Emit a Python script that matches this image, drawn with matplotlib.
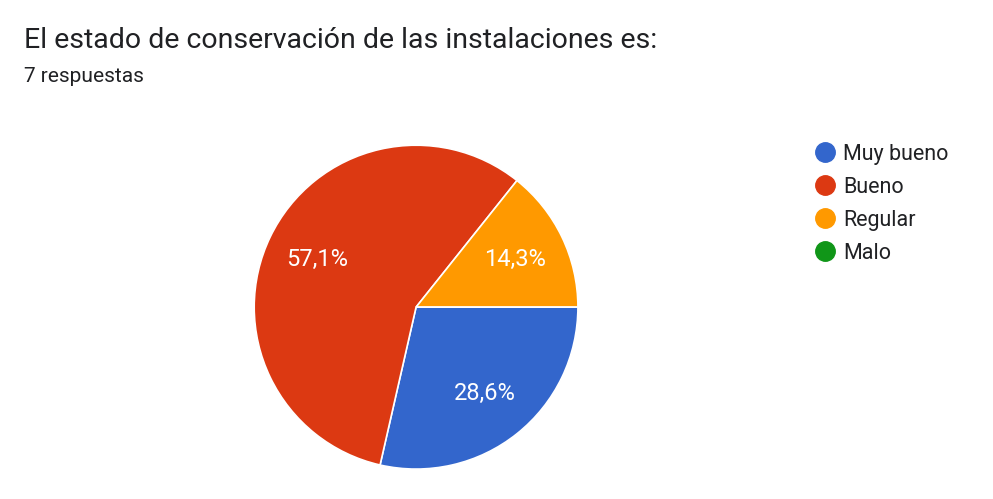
import matplotlib
matplotlib.use("Agg")
import matplotlib.pyplot as plt
from matplotlib.lines import Line2D

plt.rcParams["font.family"] = "Roboto"

title = "El estado de conservación de las instalaciones es:"
subtitle = "7 respuestas"
categories = ["Muy bueno", "Bueno", "Regular", "Malo"]
counts = [2, 4, 1, 0]
colors = ["#3366cc", "#dc3912", "#ff9900", "#109618"]

fig = plt.figure(figsize=(9.93, 4.99), dpi=100)
fig.text(24 / 993, 1 - 40 / 499, title, fontsize=20.5, color="#202124", va="center")
fig.text(24 / 993, 1 - 76 / 499, subtitle, fontsize=15, color="#202124", va="center")

ax = fig.add_axes([0.256, 0.060, 0.326, 0.649])


def fmt(p):
    return "" if p < 0.05 else ("%.1f%%" % p).replace(".", ",")


ax.pie(counts, colors=colors, startangle=0, counterclock=False,
       autopct=fmt, pctdistance=0.68,
       wedgeprops=dict(edgecolor="white", linewidth=1.2),
       textprops=dict(color="white", fontsize=17))
ax.set_aspect("auto")
ax.set_xlim(-1, 1)
ax.set_ylim(-1, 1)

handles = [Line2D([], [], marker="o", linestyle="", markersize=14,
                  markerfacecolor=c, markeredgecolor=c) for c in colors]
fig.legend(handles, categories, loc="upper left", bbox_to_anchor=(814 / 993, 1 - 144 / 499),
           frameon=False, fontsize=15.5, handletextpad=0.35, labelspacing=0.55,
           borderaxespad=0, borderpad=0, handlelength=1.0, labelcolor="#202124")

fig.savefig("out.png", dpi=100)
